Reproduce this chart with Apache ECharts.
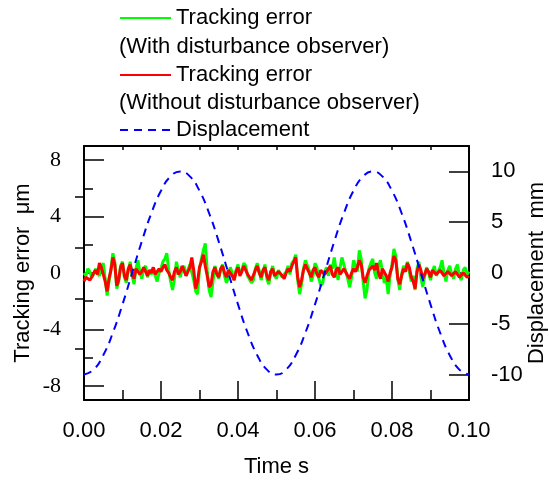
<!DOCTYPE html>
<html>
<head>
<meta charset="utf-8">
<script src="https://cdn.jsdelivr.net/npm/echarts@6/dist/echarts.min.js"></script>
<style>
  html, body { margin: 0; padding: 0; background: #fff; }
  #chart { width: 549px; height: 486px; }
</style>
</head>
<body>
<div id="chart"></div>
<script>
  // tracking error samples are 0.5 ms apart, starting at t = 0
  const errStep = 0.0005

  // tracking error, um (with disturbance observer)
  const errWithDob = [
    0.0, -0.2, 0.3, 0.1, -0.3, -0.1, 0.3, 0.0, -0.2, 0.4,
    0.7, -0.4, -1.6, -0.6, 0.3, 1.4, 0.8, -1.1, -0.6, 0.5,
    0.8, -0.3, -0.7, 0.2, 0.8, -0.2, -0.8, 0.3, 0.9, 0.1,
    -0.4, 0.3, 0.5, -0.3, 0.2, -0.1, 0.4, -0.2, -0.6, 0.0,
    0.3, 0.8, 1.0, 1.4, 0.2, -0.6, -1.2, -0.4, 0.8, 0.2,
    -0.3, 0.3, 0.5, -0.2, -0.3, 0.6, 0.6, -0.5, -1.3, -1.5,
    0.3, 1.0, 1.6, 2.1, 0.2, -1.2, -1.7, -0.6, 0.5, 0.0,
    -0.4, 0.3, 0.6, -0.2, -0.7, -0.3, 0.4, 0.0, -0.5, 0.2,
    0.6, -0.1, 0.2, 0.7, 0.5, -0.2, -0.3, -0.7, -0.5, 0.3,
    0.7, 0.2, -0.5, 0.1, 0.6, -0.4, -0.8, 0.0, 0.5, -0.2,
    -0.4, 0.2, 0.2, -0.3, -0.3, 0.1, 0.5, -0.1, 0.7, 0.9,
    1.3, -0.5, -1.5, -0.8, 0.3, 0.9, 1.0, 0.2, -0.6, -0.2,
    0.7, 0.4, -0.4, -0.9, -0.7, 0.1, 0.4, -0.2, 0.6, 0.3,
    1.1, 0.2, -0.5, 0.4, 1.1, 0.6, 0.1, -0.4, -1.0, -0.3,
    0.9, 0.5, 0.1, 1.6, 1.0, -0.6, -1.8, -1.2, 0.3, 0.7,
    1.0, 0.0, -0.4, 0.5, 0.9, 0.1, -0.7, -0.4, -1.5, -0.2,
    0.6, 1.7, 1.2, -0.4, -1.2, -0.1, 0.5, 0.2, 0.8, 0.1,
    -0.6, -0.2, -1.2, 0.3, 0.8, -0.3, -1.0, -0.2, 0.4, 0.0,
    -0.5, 0.1, 0.5, -0.2, -0.3, 0.4, 0.9, 0.0, -0.6, 0.2,
    0.5, -0.1, -0.4, 0.3, 0.6, -0.2, -0.5, 0.2, 0.4, -0.1,
    0.1
  ]

  // tracking error, um (without disturbance observer)
  const errWithoutDob = [
    -0.6, -0.3, -0.2, -0.5, -0.3, 0.0, 0.2, -0.1, 0.7, 0.4,
    0.3, -0.6, -1.3, -0.4, 0.2, 1.1, 0.6, -0.9, -0.5, 0.4,
    0.7, -0.2, -0.5, 0.3, 0.6, 0.0, -0.4, 0.3, 0.4, -0.1,
    0.1, 0.4, 0.3, -0.2, 0.2, 0.0, 0.4, -0.1, -0.2, 0.3,
    0.1, 0.4, 0.6, 0.2, 0.0, -0.3, -0.5, 0.1, 0.4, -0.1,
    0.1, 0.5, 0.6, -0.2, -0.3, 0.4, 1.1, 0.2, -1.1, -0.6,
    0.4, 0.8, 1.3, 0.5, -0.2, -1.0, -0.8, 0.1, 0.4, -0.1,
    -0.3, 0.3, 0.5, 0.0, -0.3, 0.2, 0.3, -0.2, -0.5, 0.1,
    0.4, -0.2, 0.1, 0.5, 0.4, -0.1, -0.3, -0.5, -0.6, 0.2,
    0.5, 0.0, -0.3, 0.2, 0.4, -0.2, -0.5, 0.1, 0.3, -0.2,
    -0.2, 0.1, 0.2, -0.2, -0.4, 0.0, 0.3, 0.1, 0.5, 0.8,
    1.1, -0.3, -1.0, -0.5, 0.2, 0.6, 0.5, 0.0, -0.3, 0.2,
    0.4, -0.1, -0.3, 0.2, 0.3, -0.1, 0.1, 0.3, 0.5, -0.1,
    -0.3, 0.2, 0.4, -0.1, 0.1, 0.3, 0.4, -0.2, -0.4, 0.0,
    0.3, 0.1, 0.4, 0.9, 0.6, -0.3, -0.7, -0.2, 0.2, 0.1,
    0.5, 0.2, 0.7, 0.0, -0.4, 0.3, 0.2, -0.2, -0.6, 0.0,
    0.4, 1.2, 0.9, -0.4, -0.8, -0.2, 0.3, 0.1, 0.7, 0.4,
    -0.3, -0.6, -1.1, 0.1, 0.6, 0.2, -0.4, -0.1, 0.3, 0.1,
    -0.3, 0.2, 0.3, -0.1, -0.2, 0.2, 0.3, -0.2, -0.3, 0.1,
    0.2, -0.2, -0.2, 0.1, 0.1, -0.3, -0.3, 0.0, 0.0, -0.3,
    -0.2
  ]

  // displacement, mm, samples 2.5 ms apart starting at t = 0
  const dispStep = 0.0025
  const displacement = [
    -10, -9.51, -8.09, -5.88, -3.09, 0, 3.09, 5.88, 8.09, 9.51,
    10, 9.51, 8.09, 5.88, 3.09, 0, -3.09, -5.88, -8.09, -9.51,
    -10, -9.51, -8.09, -5.88, -3.09, 0, 3.09, 5.88, 8.09, 9.51,
    10, 9.51, 8.09, 5.88, 3.09, 0, -3.09, -5.88, -8.09, -9.51,
    -10
  ]

  const errTicks = [-8, -4, 0, 4, 8]
  const errMinorTicks = [-6, -2, 2, 6]
  const dispTicks = [-10, -5, 0, 5, 10]
  const dispMinorTicks = [-7.5, -2.5, 2.5, 7.5]

  const nameWith = 'Tracking error (With disturbance observer)'
  const nameWithout = 'Tracking error (Without disturbance observer)'
  const nameDisp = 'Displacement'

  const sans = 'Liberation Sans, Arial, sans-serif'
  const serif = 'Liberation Serif, Times New Roman, serif'
  const black = '#000'

  const sampled = (ys, step) => ys.map((v, i) => [i * step, v])

  const legendBase = {
    orient: 'vertical',
    left: 119,
    padding: 0,
    itemWidth: 51,
    itemHeight: 14,
    selectedMode: false,
    itemStyle: { opacity: 0 },
    textStyle: { fontFamily: sans, fontSize: 22, color: black, lineHeight: 22 },
    formatter: (n) => n === nameDisp ? n : 'Tracking error'
  }

  const chart = echarts.init(document.getElementById('chart'), null, { renderer: 'canvas' })

  const option = {
    animation: false,
    backgroundColor: '#fff',
    legend: [
      Object.assign({}, legendBase, { top: 7, data: [nameWith] }),
      Object.assign({}, legendBase, { top: 64, data: [nameWithout] }),
      Object.assign({}, legendBase, { top: 119, data: [nameDisp] })
    ],
    graphic: [
      { type: 'text', left: 119, top: 36, style: { text: '(With disturbance observer)', font: '22px ' + sans, fill: black } },
      { type: 'text', left: 119, top: 92, style: { text: '(Without disturbance observer)', font: '22px ' + sans, fill: black } }
    ],
    grid: {
      left: 84,
      top: 146,
      right: 80,
      bottom: 86,
      containLabel: false,
      outerBoundsMode: 'none'
    },
    xAxis: [
      {
        type: 'value',
        position: 'bottom',
        min: 0,
        max: 0.1,
        interval: 0.02,
        name: 'Time s',
        nameLocation: 'middle',
        nameGap: 56,
        nameMoveOverlap: false,
        nameTextStyle: { fontFamily: sans, fontSize: 22, color: black },
        axisLine: { show: true, onZero: false, lineStyle: { color: black, width: 2 } },
        axisTick: { inside: true, length: 19, lineStyle: { color: black, width: 1.5 } },
        minorTick: { show: true, splitNumber: 2, length: 10, lineStyle: { color: black, width: 1.5 } },
        axisLabel: {
          margin: 20,
          fontFamily: sans,
          fontSize: 22,
          color: black,
          formatter: (v) => v.toFixed(2)
        },
        splitLine: { show: false }
      },
      {
        type: 'value',
        position: 'top',
        min: 0,
        max: 0.1,
        interval: 0.01,
        axisLine: { show: true, onZero: false, lineStyle: { color: black, width: 2 } },
        axisTick: { inside: true, length: 4, lineStyle: { color: black, width: 1.5 } },
        axisLabel: { show: false },
        splitLine: { show: false }
      }
    ],
    yAxis: [
      {
        type: 'value',
        position: 'left',
        min: -9,
        max: 9,
        name: 'Tracking error  μm',
        nameLocation: 'middle',
        nameRotate: 90,
        nameGap: 50,
        nameMoveOverlap: false,
        nameTextStyle: { fontFamily: sans, fontSize: 22, color: black },
        axisLine: { show: true, onZero: false, lineStyle: { color: black, width: 2 } },
        axisTick: { show: true, inside: true, length: 20, customValues: errTicks, lineStyle: { color: black, width: 1.5 } },
        axisLabel: { customValues: errTicks, margin: 23, fontFamily: serif, fontSize: 22, color: black },
        splitLine: { show: false }
      },
      {
        type: 'value',
        position: 'right',
        min: -12.5,
        max: 12.5,
        name: 'Displacement  mm',
        nameLocation: 'middle',
        nameRotate: 90,
        nameGap: 57,
        nameMoveOverlap: false,
        nameTextStyle: { fontFamily: sans, fontSize: 22, color: black },
        axisLine: { show: true, onZero: false, lineStyle: { color: black, width: 2 } },
        axisTick: { show: true, inside: true, length: 20, customValues: dispTicks, lineStyle: { color: black, width: 1.5 } },
        axisLabel: { customValues: dispTicks, margin: 22, fontFamily: sans, fontSize: 22, color: black },
        splitLine: { show: false }
      },
      {
        type: 'value',
        position: 'left',
        min: -9,
        max: 9,
        axisLine: { show: false },
        axisTick: { show: true, inside: true, length: 9, customValues: errMinorTicks, lineStyle: { color: black, width: 1.5 } },
        axisLabel: { show: false },
        splitLine: { show: false }
      },
      {
        type: 'value',
        position: 'right',
        min: -12.5,
        max: 12.5,
        axisLine: { show: false },
        axisTick: { show: true, inside: true, length: 9, customValues: dispMinorTicks, lineStyle: { color: black, width: 1.5 } },
        axisLabel: { show: false },
        splitLine: { show: false }
      }
    ],
    series: [
      {
        name: nameWith,
        type: 'line',
        yAxisIndex: 0,
        symbol: 'none',
        data: sampled(errWithDob, errStep),
        lineStyle: { color: '#00ff00', width: 3 },
        itemStyle: { color: '#00ff00' }
      },
      {
        name: nameWithout,
        type: 'line',
        yAxisIndex: 0,
        symbol: 'none',
        data: sampled(errWithoutDob, errStep),
        lineStyle: { color: '#ff0000', width: 3 },
        itemStyle: { color: '#ff0000' }
      },
      {
        name: nameDisp,
        type: 'line',
        yAxisIndex: 1,
        symbol: 'none',
        smooth: true,
        data: sampled(displacement, dispStep),
        lineStyle: { color: '#0000ff', width: 2, type: [8, 6] },
        itemStyle: { color: '#0000ff' }
      }
    ]
  }

  chart.setOption(option)
</script>
</body>
</html>
